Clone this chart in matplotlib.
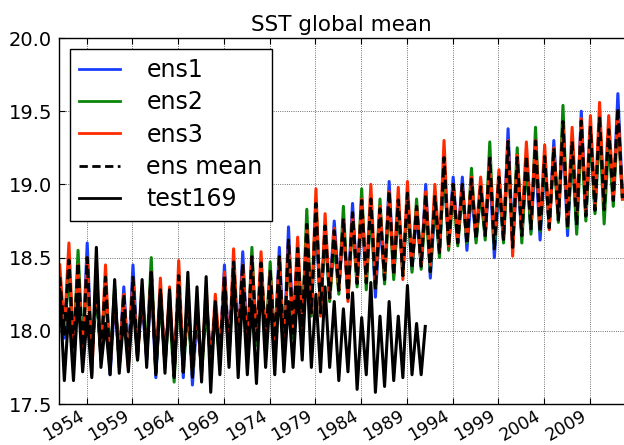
import matplotlib
matplotlib.use("Agg")
import matplotlib.pyplot as plt
import matplotlib.transforms as mtransforms
import numpy as np

# ---------------- data ----------------
years = list(range(1951, 2013))          # ensemble years
test_years = list(range(1951, 1991))     # test169 years

# seasonal peak (hi) and trough (lo) per year, degC
ens1_hi = [18.35, 18.45, 18.40, 18.60, 18.30, 18.30, 18.20, 18.30, 18.45, 18.20,
           18.35, 18.25, 18.20, 18.35, 18.30, 18.10, 18.20, 18.15, 18.45, 18.45,
           18.54, 18.45, 18.40, 18.35, 18.57, 18.71, 18.50, 18.65, 18.75, 18.65,
           18.75, 18.70, 18.87, 18.80, 18.85, 18.75, 19.02, 18.85, 18.90, 18.80,
           19.00, 18.85, 19.10, 19.05, 19.05, 18.95, 18.95, 19.10, 19.00, 19.38,
           19.10, 19.15, 19.20, 19.15, 19.30, 19.35, 19.25, 19.50, 19.35, 19.40,
           19.35, 19.62]
ens1_lo = [17.95, 17.90, 17.85, 17.80, 17.80, 17.70, 17.80, 17.78, 17.85, 17.80,
           17.68, 17.80, 17.72, 17.68, 17.63, 17.75, 17.80, 17.82, 17.85, 17.90,
           17.88, 17.92, 17.95, 17.90, 17.85, 18.00, 18.05, 18.15, 18.15, 18.25,
           18.30, 18.25, 18.32, 18.35, 18.23, 18.35, 18.38, 18.40, 18.42, 18.45,
           18.36, 18.55, 18.60, 18.60, 18.55, 18.62, 18.65, 18.50, 18.62, 18.58,
           18.65, 18.68, 18.62, 18.70, 18.75, 18.65, 18.70, 18.78, 18.82, 18.87,
           18.90, 18.92]

ens2_hi = [18.30, 18.40, 18.55, 18.40, 18.25, 18.35, 18.30, 18.20, 18.30, 18.30,
           18.50, 18.20, 18.15, 18.30, 18.15, 18.20, 18.15, 18.10, 18.30, 18.40,
           18.40, 18.57, 18.45, 18.47, 18.45, 18.55, 18.55, 18.83, 18.89, 18.70,
           18.60, 18.85, 18.75, 18.97, 18.85, 18.90, 18.90, 18.85, 18.90, 18.90,
           18.85, 18.90, 19.15, 18.95, 18.95, 19.11, 18.95, 19.29, 19.05, 19.20,
           19.25, 19.15, 19.39, 19.15, 19.20, 19.54, 19.25, 19.35, 19.35, 19.40,
           19.30, 19.45]
ens2_lo = [17.98, 17.85, 17.88, 17.85, 17.82, 17.78, 17.75, 17.80, 17.80, 17.85,
           17.72, 17.78, 17.65, 17.72, 17.70, 17.70, 17.78, 17.80, 17.82, 17.88,
           17.85, 17.90, 17.92, 17.88, 17.88, 17.95, 18.00, 18.10, 18.12, 18.20,
           18.25, 18.22, 18.30, 18.28, 18.30, 18.32, 18.35, 18.38, 18.40, 18.42,
           18.40, 18.50, 18.55, 18.58, 18.60, 18.60, 18.62, 18.56, 18.60, 18.62,
           18.60, 18.66, 18.68, 18.72, 18.74, 18.70, 18.66, 18.75, 18.80, 18.73,
           18.85, 18.90]

ens3_hi = [18.45, 18.60, 18.45, 18.50, 18.40, 18.45, 18.25, 18.25, 18.35, 18.25,
           18.40, 18.36, 18.30, 18.48, 18.25, 18.15, 18.30, 18.25, 18.40, 18.56,
           18.45, 18.50, 18.54, 18.40, 18.50, 18.60, 18.64, 18.70, 18.97, 18.80,
           18.70, 18.75, 18.80, 18.90, 19.00, 18.85, 18.95, 18.98, 19.02, 18.85,
           18.95, 19.00, 19.30, 19.00, 19.00, 19.05, 19.05, 19.15, 19.10, 19.30,
           19.20, 19.29, 19.30, 19.27, 19.25, 19.40, 19.39, 19.45, 19.47, 19.56,
           19.47, 19.50]
ens3_lo = [18.00, 17.88, 17.80, 17.70, 17.80, 17.75, 17.80, 17.75, 17.82, 17.82,
           17.75, 17.75, 17.70, 17.75, 17.72, 17.72, 17.75, 17.85, 17.85, 17.92,
           17.90, 17.95, 17.90, 17.92, 17.80, 18.00, 18.02, 18.12, 18.10, 18.22,
           18.28, 18.20, 18.35, 18.35, 18.32, 18.38, 18.40, 18.35, 18.45, 18.45,
           18.45, 18.55, 18.58, 18.62, 18.62, 18.65, 18.68, 18.62, 18.65, 18.51,
           18.70, 18.75, 18.72, 18.69, 18.78, 18.75, 18.80, 18.82, 18.85, 18.88,
           18.92, 18.90]

test_hi = [18.28, 18.15, 18.25, 18.10, 18.57, 18.05, 18.35, 18.10, 18.20, 18.35,
           18.40, 18.28, 18.28, 18.30, 18.40, 18.30, 18.37, 18.20, 18.30, 18.40,
           18.28, 18.20, 18.35, 18.25, 18.30, 18.20, 18.30, 18.46, 18.25, 18.30,
           18.20, 18.15, 18.26, 18.09, 18.33, 18.10, 18.20, 18.10, 18.31, 18.05]
test_lo = [17.66, 17.66, 17.72, 17.68, 17.75, 17.70, 17.71, 17.72, 17.80, 17.75,
           17.70, 17.71, 17.68, 17.72, 17.70, 17.65, 17.58, 17.70, 17.75, 17.68,
           17.70, 17.64, 17.75, 17.70, 17.72, 17.75, 17.80, 17.75, 17.72, 17.75,
           17.66, 17.72, 17.60, 17.70, 17.58, 17.62, 17.66, 17.68, 17.70, 17.70]
test_end = 18.03
tick_years = [1954, 1959, 1964, 1969, 1974, 1979, 1984, 1989, 1994, 1999, 2004, 2009]
yticks = [17.5, 18.0, 18.5, 19.0, 19.5, 20.0]


def zig(yrs, hi, lo):
    t, v = [], []
    for y, h, l in zip(yrs, hi, lo):
        t += [y + 0.05, y + 0.55]
        v += [h, l]
    return np.array(t), np.array(v)


t_e, e1 = zig(years, ens1_hi, ens1_lo)
_, e2 = zig(years, ens2_hi, ens2_lo)
_, e3 = zig(years, ens3_hi, ens3_lo)
emean = (e1 + e2 + e3) / 3.0
t_t, tt = zig(test_years, test_hi, test_lo)
t_t = np.append(t_t, test_years[-1] + 1.0)
tt = np.append(tt, test_end)

# ---------------- figure ----------------
fig = plt.figure(figsize=(6.24, 4.45), dpi=100)
ax = fig.add_axes([0.0946, 0.0921, 0.9054, 0.8225])

lw = 2.2
ax.plot(t_e, e1, color='#1a3cff', lw=lw, label='ens1')
ax.plot(t_e, e2, color='#0a860a', lw=lw, label='ens2')
ax.plot(t_e, e3, color='#ff2a00', lw=lw, label='ens3')
ax.plot(t_e, emean, color='black', lw=lw, dashes=(3.0, 1.6), label='ens mean')
ax.plot(t_t, tt, color='black', lw=lw, label='test169')

ax.set_xlim(1950.97, 2012.72)
ax.set_ylim(17.5, 20.0)
ax.set_xticks(tick_years)
ax.set_xticklabels([str(y) for y in tick_years], rotation=30, ha='right',
                   va='top', fontsize=12.5)
shift = mtransforms.ScaledTranslation(-3 / 100, 0, fig.dpi_scale_trans)
for lab in ax.get_xticklabels():
    lab.set_transform(lab.get_transform() + shift)
ax.set_yticks(yticks)
ax.set_yticklabels(['%.1f' % v for v in yticks], fontsize=14)
ax.tick_params(direction='in', length=4, top=True, right=False)
ax.tick_params(axis='x', pad=2)
ax.tick_params(axis='y', pad=5)
ax.spines['right'].set_visible(False)
for s in ['left', 'top', 'bottom']:
    ax.spines[s].set_linewidth(1.0)
ax.grid(True, color='#444444', ls=':', lw=0.6)
ax.set_axisbelow(True)

ax.set_title('SST global mean', fontsize=15.5, pad=5)

leg = ax.legend(loc='upper left', fontsize=17, frameon=True, fancybox=False,
                edgecolor='black', framealpha=1, handlelength=1.75,
                handletextpad=1.1, labelspacing=0.35, borderpad=0.4,
                borderaxespad=0.45)
leg.get_frame().set_linewidth(1.0)
for h in leg.get_lines():
    h.set_linewidth(2.0)

fig.savefig("out.png", dpi=100)
